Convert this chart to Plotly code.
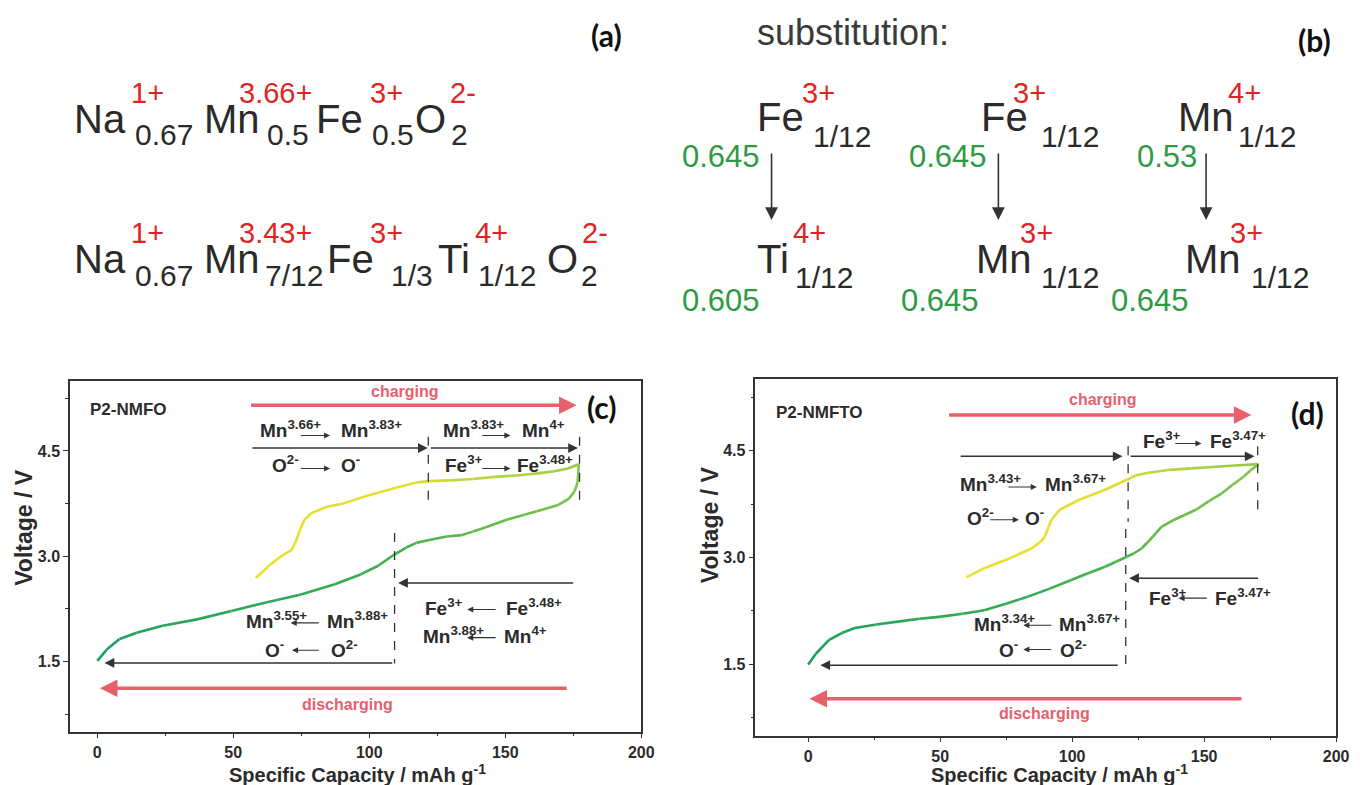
import plotly.graph_objects as go

W, H = 1360, 785

# ---------------- data: panel (c) P2-NMFO ----------------
cap_c_charge = [58.3, 63.6, 68, 71.5, 73, 74.6, 76.2, 78.6, 84.1, 90.4, 99.9, 109.4, 117.3, 122,
                130, 138, 146, 154, 162, 168, 173, 177]
volt_c_charge = [2.69, 2.88, 3.01, 3.09, 3.21, 3.38, 3.52, 3.61, 3.70, 3.75, 3.87, 3.97, 4.05, 4.07,
                 4.08, 4.10, 4.13, 4.15, 4.18, 4.21, 4.25, 4.31]
cap_c_dis = [177, 176.6, 175.4, 173.4, 169.5, 161.6, 157, 150.5, 142.6, 138, 133.9, 128.4, 122,
             117.3, 113.4, 109.1, 103.1, 96.8, 87.3, 74.6, 62, 49.3, 36.7, 24, 14.5, 8.2, 3.5, 0]
volt_c_dis = [4.31, 4.05, 3.92, 3.82, 3.73, 3.64, 3.59, 3.52, 3.41, 3.35, 3.30, 3.28, 3.23,
              3.19, 3.12, 3.02, 2.86, 2.74, 2.60, 2.45, 2.34, 2.22, 2.10, 2.01, 1.91, 1.82, 1.67, 1.51]

# ---------------- data: panel (d) P2-NMFTO ----------------
cap_d_charge = [59.9, 66.7, 76.5, 84.7, 88, 89.6, 91, 92.1, 95.3, 102.7, 112.5, 120.7, 124, 128.9,
                137, 145.2, 153, 161.6, 170.6]
volt_d_charge = [2.72, 2.85, 2.99, 3.13, 3.22, 3.29, 3.42, 3.53, 3.67, 3.81, 3.95, 4.09, 4.15, 4.19,
                 4.23, 4.25, 4.27, 4.29, 4.31]
cap_d_dis = [170.6, 167.5, 164.8, 160.8, 156.7, 151.8, 146.9, 142.8, 138.7, 133.8, 130.5, 128.5,
             126.4, 123.5, 120.7, 116.6, 112.5, 106, 99.4, 91.3, 83.1, 74.9, 66.7, 58.5, 50.4, 42.2,
             34, 25.8, 17.7, 12.7, 7.8, 2.9, 0]
volt_d_dis = [4.31, 4.22, 4.13, 4.02, 3.90, 3.79, 3.67, 3.60, 3.53, 3.43, 3.29, 3.21, 3.13, 3.06,
              3.01, 2.94, 2.87, 2.78, 2.68, 2.56, 2.45, 2.35, 2.26, 2.21, 2.17, 2.14, 2.10, 2.06,
              2.01, 1.94, 1.84, 1.65, 1.50]

x_ticks = [0, 50, 100, 150, 200]
x_tick_labels = ["0", "50", "100", "150", "200"]
y_ticks = [1.5, 3.0, 4.5]
y_tick_labels = ["1.5", "3.0", "4.5"]

# ---------------- styles ----------------
DARK = "#2b2b2b"
RED_TXT = "#e02424"
GREEN_TXT = "#2f9a45"
PINK = "#e8606c"
SANS = "Liberation Sans"
LABEL = "Lato"

charge_stops = [(0.0, "#eae22c"), (0.55, "#e4de2e"), (0.75, "#b8d63e"), (1.0, "#92ca48")]
dis_stops = [(0.0, "#84c648"), (0.35, "#5cba4c"), (0.6, "#3aae54"), (1.0, "#1c9e62")]


def hex2rgb(h):
    h = h.lstrip("#")
    return [int(h[i:i + 2], 16) for i in (0, 2, 4)]


def color_at(t, stops):
    for (t0, c0), (t1, c1) in zip(stops[:-1], stops[1:]):
        if t0 <= t <= t1:
            f = (t - t0) / (t1 - t0) if t1 > t0 else 0
            a, b = hex2rgb(c0), hex2rgb(c1)
            return "rgb(%d,%d,%d)" % tuple(round(a[i] + (b[i] - a[i]) * f) for i in range(3))
    return stops[-1][1]


fig = go.Figure()


def add_curve(xs, ys, stops, xa, ya):
    n = len(xs) - 1
    for i in range(n):
        fig.add_trace(go.Scatter(x=xs[i:i + 2], y=ys[i:i + 2], mode="lines",
                                 line=dict(color=color_at((i + 0.5) / n, stops), width=2.6),
                                 xaxis=xa, yaxis=ya, showlegend=False, hoverinfo="skip"))


add_curve(cap_c_charge, volt_c_charge, charge_stops, "x", "y")
add_curve(cap_c_dis, volt_c_dis, dis_stops, "x", "y")
add_curve(cap_d_charge, volt_d_charge, charge_stops, "x2", "y2")
add_curve(cap_d_dis, volt_d_dis, dis_stops, "x2", "y2")

ann = []
shapes = []


def ptext(txt, px, py, size, color, anchor="left", weight="normal", family=SANS):
    ann.append(dict(xref="paper", yref="paper", x=px / W, y=1 - py / H, text=txt, showarrow=False,
                    xanchor=anchor, yanchor="middle",
                    font=dict(size=size, color=color, family=family, weight=weight)))


# ---------------- panel (a) ----------------
MAIN, SUB, SUP = 40, 30, 29
row1 = [("Na", 72.9, "m"), ("0.67", 134, "s"), ("1+", 148.5, "c"), ("Mn", 204, "m"), ("0.5", 267.5, "s"),
        ("3.66+", 278, "c"), ("Fe", 316.6, "m"), ("0.5", 373.5, "s"), ("3+", 390, "c"), ("O", 417, "m"),
        ("2", 453, "s"), ("2-", 467, "c")]
row2 = [("Na", 72.9, "m"), ("0.67", 134, "s"), ("1+", 148.5, "c"), ("Mn", 204, "m"), ("7/12", 266, "s"),
        ("3.43+", 278, "c"), ("Fe", 328.5, "m"), ("1/3", 392.5, "s"), ("3+", 390, "c"), ("Ti", 440, "m"),
        ("1/12", 480.5, "s"), ("4+", 496, "c"), ("O", 550.7, "m"), ("2", 585, "s"), ("2-", 600.6, "c")]
for row, (ym, ys, yc) in ((row1, (119, 135, 93.5)), (row2, (259, 276, 233))):
    for t, px, kind in row:
        if kind == "m":
            ptext(t, px, ym, MAIN, "#2a2a2a")
        elif kind == "s":
            ptext(t, px, ys, SUB, "#2a2a2a")
        else:
            ptext(t, px, yc, SUP, RED_TXT, anchor="center")
ptext("(a)", 612, 35, 30, "#111", anchor="center", weight="bold", family=LABEL)

# ---------------- panel (b) ----------------
ptext("substitution:", 762, 33, 36, "#3a3a3a")
ptext("(b)", 1327, 40, 30, "#111", anchor="center", weight="bold", family=LABEL)
cols = [
    ("Fe", 762.4, "3+", 826.5, 819, "0.645", 686.5, 779, "Ti", 762, "4+", 817.6, 801, "0.605", 686.5),
    ("Fe", 988, "3+", 1039.8, 1048.6, "0.645", 916, 1008, "Mn", 983.6, "3+", 1046, 1048.6, "0.645", 907.7),
    ("Mn", 1187, "4+", 1257, 1248, "0.53", 1146, 1217.7, "Mn", 1194, "3+", 1259, 1261, "0.645", 1120),
]
for (e1, x1, c1, cx1, sx1, r1, rx1, axp, e2, x2, c2, cx2, sx2, r2, rx2) in cols:
    ptext(e1, x1, 117, MAIN, "#2a2a2a")
    ptext(c1, cx1, 93, SUP, RED_TXT, anchor="center")
    ptext("1/12", sx1, 137, 30, "#2a2a2a")
    ptext(r1, rx1, 157, 31, GREEN_TXT)
    ptext(e2, x2, 259, MAIN, "#2a2a2a")
    ptext(c2, cx2, 233, SUP, RED_TXT, anchor="center")
    ptext("1/12", sx2, 278, 30, "#2a2a2a")
    ptext(r2, rx2, 300, 31, GREEN_TXT)
    ann.append(dict(xref="paper", yref="paper", x=axp / W, y=1 - 220 / H, ax=0, ay=-68,
                    text="", showarrow=True, arrowhead=2, arrowsize=1.6,
                    arrowwidth=1.6, arrowcolor="#333", standoff=0))


# ---------------- chart annotations ----------------
RS = 19


def t(xr, yr, x, y, txt, size=RS, color=DARK, anchor="left", weight="bold", family=SANS):
    ann.append(dict(xref=xr, yref=yr, x=x, y=y, text=txt, showarrow=False, xanchor=anchor,
                    yanchor="middle", font=dict(size=size, color=color, family=family, weight=weight)))


def arr(xr, yr, x0, x1, y, color="#333", width=1.5, size=1.3):
    ann.append(dict(xref=xr, yref=yr, axref=xr, ayref=yr, x=x1, y=y, ax=x0, ay=y, text="",
                    showarrow=True, arrowhead=2, arrowsize=size, arrowwidth=width, arrowcolor=color,
                    standoff=0, startstandoff=0))


def dash(xr, yr, x, y0, y1):
    shapes.append(dict(type="line", xref=xr, yref=yr, x0=x, x1=x, y0=y0, y1=y1,
                       line=dict(color="#333", width=1.3, dash="dash")))


def reaction(xr, yr, lt, lx, rt, rx, y, a0, a1, ay):
    t(xr, yr, lx, y, lt)
    t(xr, yr, rx, y, rt)
    arr(xr, yr, a0, a1, ay, width=1.1, size=1.1)


# panel (c)
X, Y = "x", "y"
t(X, Y, -3.4, 5.09, "P2-NMFO", size=17)
t(X, Y, 185.7, 5.13, "(c)", size=30, color="#111", anchor="center", family=LABEL)
t(X, Y, 113, 5.34, "charging", size=16, color=PINK, anchor="center")
arr(X, Y, 56, 176.2, 5.15, color=PINK, width=3.5, size=1.0)
reaction(X, Y, "Mn<sup>3.66+</sup>", 59, "Mn<sup>3.83+</sup>", 89, 4.81, 74.3, 85.6, 4.72)
reaction(X, Y, "Mn<sup>3.83+</sup>", 126.3, "Mn<sup>4+</sup>", 155.5, 4.81, 141, 151.9, 4.72)
arr(X, Y, 56.5, 121.5, 4.54)
arr(X, Y, 122.1, 176.7, 4.54)
reaction(X, Y, "O<sup>2-</sup>", 63.6, "O<sup>-</sup>", 88.7, 4.32, 74.3, 85.6, 4.25)
reaction(X, Y, "Fe<sup>3+</sup>", 127, "Fe<sup>3.48+</sup>", 153.4, 4.32, 141, 151.9, 4.25)
dash(X, Y, 121.7, 4.70, 3.73)
dash(X, Y, 177.3, 4.70, 3.73)
dash(X, Y, 109.3, 3.33, 1.47)
arr(X, Y, 175.5, 110.6, 2.62)
reaction(X, Y, "Fe<sup>3+</sup>", 119.7, "Fe<sup>3.48+</sup>", 149.4, 2.28, 147, 136, 2.24)
reaction(X, Y, "Mn<sup>3.88+</sup>", 119, "Mn<sup>4+</sup>", 148.8, 1.88, 147, 136, 1.84)
reaction(X, Y, "Mn<sup>3.55+</sup>", 54.1, "Mn<sup>3.88+</sup>", 83.8, 2.09, 82, 71.1, 2.05)
reaction(X, Y, "O<sup>-</sup>", 60.8, "O<sup>2-</sup>", 85.1, 1.68, 82, 71.6, 1.66)
arr(X, Y, 109, 2.7, 1.48)
arr(X, Y, 173.1, 1.0, 1.12, color=PINK, width=3.5, size=1.0)
t(X, Y, 92, 0.885, "discharging", size=16, color=PINK, anchor="center")

# panel (d)
X, Y = "x2", "y2"
t(X, Y, -12.8, 5.03, "P2-NMFTO", size=17)
t(X, Y, 189, 5.03, "(d)", size=30, color="#111", anchor="center", family=LABEL)
t(X, Y, 111.5, 5.21, "charging", size=16, color=PINK, anchor="center")
arr(X, Y, 52.8, 167.9, 5.0, color=PINK, width=3.5, size=1.0)
reaction(X, Y, "Fe<sup>3+</sup>", 126, "Fe<sup>3.47+</sup>", 151.6, 4.65, 138.5, 149, 4.60)
arr(X, Y, 57.2, 119.1, 4.42)
arr(X, Y, 121.6, 169.1, 4.42)
dash(X, Y, 121.2, 4.56, 3.50)
dash(X, Y, 120.3, 3.40, 1.47)
dash(X, Y, 170.3, 4.56, 3.55)
reaction(X, Y, "Mn<sup>3.43+</sup>", 56.6, "Mn<sup>3.67+</sup>", 89, 4.04, 75.3, 86.6, 3.99)
reaction(X, Y, "O<sup>2-</sup>", 59.4, "O<sup>-</sup>", 81.4, 3.57, 68.4, 79.8, 3.53)
arr(X, Y, 171, 121.6, 2.71)
reaction(X, Y, "Fe<sup>3+</sup>", 128.5, "Fe<sup>3.47+</sup>", 153.5, 2.45, 151.6, 140.3, 2.43)
reaction(X, Y, "Mn<sup>3.34+</sup>", 62.2, "Mn<sup>3.67+</sup>", 94.1, 2.08, 92.7, 81.5, 2.05)
reaction(X, Y, "O<sup>-</sup>", 71.6, "O<sup>2-</sup>", 94.7, 1.72, 92.7, 81.5, 1.71)
arr(X, Y, 117.8, 4.6, 1.49)
arr(X, Y, 164.7, 0.5, 1.02, color=PINK, width=3.5, size=1.0)
t(X, Y, 89.7, 0.81, "discharging", size=16, color=PINK, anchor="center")

# axis titles
for cx, cy in ((24, 527), (717, 525)):
    ptext("<b>Voltage / V</b>", cx, cy, 23, DARK, anchor="center", weight="bold")
    ann[-1]["textangle"] = -90
for cx in (361, 1070):
    ptext("<b>Specific Capacity / mAh g<sup>-1</sup></b>", cx, 773, 20, DARK, anchor="center", weight="bold")

bold = lambda labels: ["<b>%s</b>" % s for s in labels]

axis_common = dict(showline=True, linecolor="#333", linewidth=1.5, mirror=True, showgrid=False,
                   zeroline=False, ticks="outside", ticklen=5, tickwidth=1.3, tickcolor="#333",
                   tickfont=dict(size=16, color=DARK, family=SANS, weight="bold"))

fig.update_layout(
    width=W, height=H, margin=dict(l=0, r=0, t=0, b=0),
    paper_bgcolor="white", plot_bgcolor="white", showlegend=False,
    xaxis=dict(domain=[70.7 / W, 647.5 / W], range=[-10, 200], tickvals=x_ticks,
               ticktext=bold(x_tick_labels), anchor="y",
               minor=dict(tickvals=[25, 75, 125, 175], ticklen=3, ticks="outside", tickcolor="#333"),
               **axis_common),
    yaxis=dict(domain=[1 - 731.7 / H, 1 - 380.7 / H], range=[0.5, 5.5], tickvals=y_ticks,
               ticktext=bold(y_tick_labels), anchor="x",
               minor=dict(tickvals=[0.75, 2.25, 3.75, 5.25], ticklen=3, ticks="outside", tickcolor="#333"),
               **axis_common),
    xaxis2=dict(domain=[762.7 / W, 1349 / W], range=[-20, 200], tickvals=x_ticks,
                ticktext=bold(x_tick_labels), anchor="y2",
                minor=dict(tickvals=[25, 75, 125, 175], ticklen=3, ticks="outside", tickcolor="#333"),
                **axis_common),
    yaxis2=dict(domain=[1 - 735.7 / H, 1 - 379.3 / H], range=[0.5, 5.5], tickvals=y_ticks,
                ticktext=bold(y_tick_labels), anchor="x2",
                minor=dict(tickvals=[0.75, 2.25, 3.75, 5.25], ticklen=3, ticks="outside", tickcolor="#333"),
                **axis_common),
    annotations=ann, shapes=shapes,
)

fig.write_html("out.html")
